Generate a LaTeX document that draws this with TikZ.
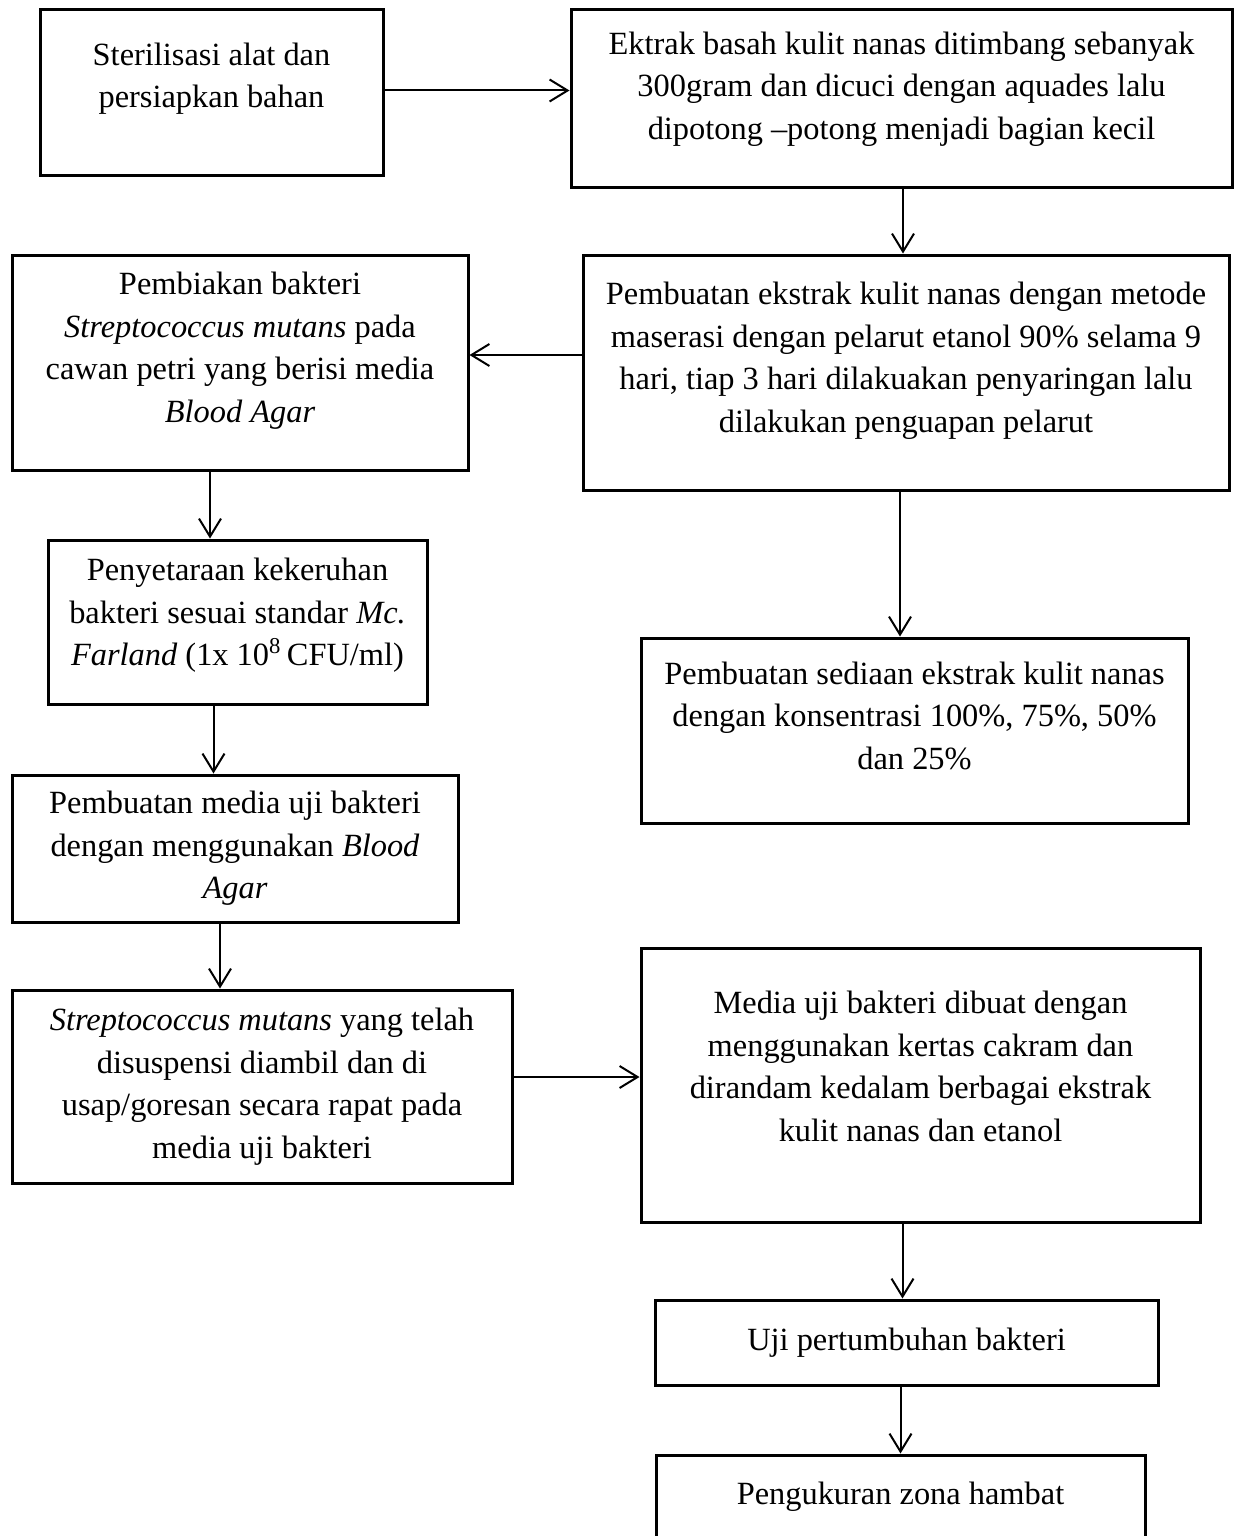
\documentclass[tikz,border=0pt]{standalone}
\usepackage{fontspec}
\setmainfont{Liberation Serif}
\usetikzlibrary{arrows.meta}
\begin{document}
\begin{tikzpicture}[x=0.5pt, y=-0.5pt,
    box/.style ={rectangle, draw, line width=1.5pt, align=center, inner sep=0pt,
      font=\fontsize{16.2}{21.25}\selectfont},
    flow/.style ={line width=1pt, -{Straight Barb[length=9pt, width=11pt, line width=1pt]}}]
   \useasboundingbox (0,0) rectangle (1240,1536);
   \node[box, minimum width=171.5pt, minimum height=82.5pt, text depth=17pt] (A) at (211.5,92.5)
      {Sterilisasi alat dan\\persiapkan bahan};
   \node[box, minimum width=330.5pt, minimum height=88.5pt, text depth=13pt] (B) at (901.5,98.5)
      {Ektrak basah kulit nanas ditimbang sebanyak\\300gram dan dicuci dengan aquades lalu\\dipotong --potong menjadi bagian kecil};
   \node[box, minimum width=323pt, minimum height=117.5pt, text depth=15pt] (C) at (906,372.5)
      {Pembuatan ekstrak kulit nanas dengan metode\\maserasi dengan pelarut etanol 90\% selama 9\\hari, tiap 3 hari dilakuakan penyaringan lalu\\dilakukan penguapan pelarut};
   \node[box, minimum width=228pt, minimum height=107.5pt, text depth=15pt] (D) at (240,362.5)
      {Pembiakan bakteri\\\textit{Streptococcus mutans} pada\\cawan petri yang berisi media\\\textit{Blood Agar}};
   \node[box, minimum width=189.5pt, minimum height=82pt, text depth=10pt] (E) at (237.5,622)
      {Penyetaraan kekeruhan\\bakteri sesuai standar \textit{Mc.}\\\textit{Farland} (1x 10\textsuperscript{8}\,CFU/ml)};
   \node[box, minimum width=223pt, minimum height=73.5pt] (F) at (235,848.5)
      {Pembuatan media uji bakteri\\dengan menggunakan \textit{Blood}\\\textit{Agar}};
   \node[box, minimum width=250pt, minimum height=96.5pt] (G) at (262,1086.5)
      {\textit{Streptococcus mutans} yang telah\\disuspensi diambil dan di\\usap/goresan secara rapat pada\\media uji bakteri};
   \node[box, minimum width=279.5pt, minimum height=137pt, text depth=19pt] (H) at (920.5,1085)
      {Media uji bakteri dibuat dengan\\menggunakan kertas cakram dan\\dirandam kedalam berbagai ekstrak\\kulit nanas dan etanol};
   \node[box, minimum width=273.5pt, minimum height=92.5pt, text depth=15pt] (I) at (914.5,730.5)
      {Pembuatan sediaan ekstrak kulit nanas\\dengan konsentrasi 100\%, 75\%, 50\%\\dan 25\%};
   \node[box, minimum width=251.5pt, minimum height=42.5pt] (J) at (906.5,1342.5)
      {Uji pertumbuhan bakteri};
   \node[box, minimum width=244.5pt, minimum height=42pt] (K) at (900.5,1497)
      {Pengukuran zona hambat};

   \draw[flow] ([yshift=1pt]A.east) to ([yshift=1pt]A.east -| B.west);
   \draw[flow] ([xshift=0.75pt]B.south) to ([xshift=0.75pt]B.south |- C.north);
   \draw[flow] ([yshift=8.75pt]C.west) to ([yshift=8.75pt]C.west -| D.east);
   \draw[flow] ([xshift=-15pt]D.south) to ([xshift=-15pt]D.south |- E.north);
   \draw[flow] ([xshift=-12pt]E.south) to ([xshift=-12pt]E.south |- F.north);
   \draw[flow] ([xshift=-7.5pt]F.south) to ([xshift=-7.5pt]F.south |- G.north);
   \draw[flow] ([yshift=4.75pt]G.east) to ([yshift=4.75pt]G.east -| H.west);
   \draw[flow] ([xshift=-3pt]C.south) to ([xshift=-3pt]C.south |- I.north);
   \draw[flow] ([xshift=-9pt]H.south) to ([xshift=-9pt]H.south |- J.north);
   \draw[flow] ([xshift=-3pt]J.south) to ([xshift=-3pt]J.south |- K.north);

\end{tikzpicture}
\end{document}
